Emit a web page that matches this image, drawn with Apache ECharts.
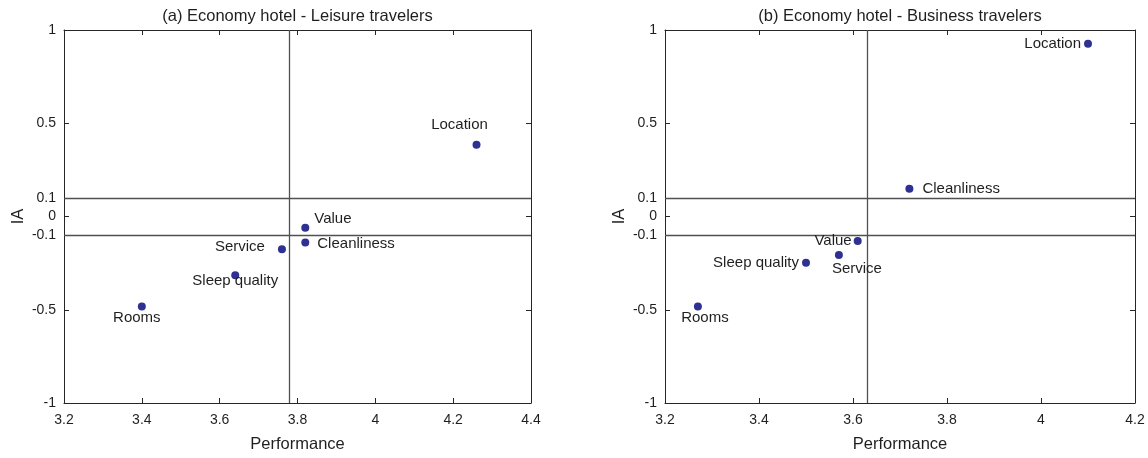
<!DOCTYPE html>
<html>
<head>
<meta charset="utf-8">
<script src="https://cdn.jsdelivr.net/npm/echarts@6/dist/echarts.min.js"></script>
<style>html,body{margin:0;padding:0;background:#fff}#c{width:1148px;height:458px}</style>
</head>
<body>
<div id="c"></div>
<script>
// ---- data ----
const categories = ['Location', 'Value', 'Cleanliness', 'Service', 'Sleep quality', 'Rooms'];
const leisurePerf = [4.26, 3.82, 3.82, 3.76, 3.64, 3.40];
const leisureIA   = [0.385, -0.06, -0.14, -0.175, -0.315, -0.483];
const businessPerf = [4.10, 3.61, 3.72, 3.57, 3.50, 3.27];
const businessIA   = [0.926, -0.131, 0.149, -0.207, -0.248, -0.482];
const leisurePerfThreshold = 3.78;
const businessPerfThreshold = 3.63;
const iaThresholds = [0.1, -0.1];
const yTickValues = [-1, -0.5, -0.1, 0, 0.1, 0.5, 1];
const titles = ['(a) Economy hotel - Leisure travelers', '(b) Economy hotel - Business travelers'];

// ---- styling ----
const FONT = '"Liberation Sans", Arial, Helvetica, sans-serif';
const TXT = '#1f1f1f';
const AX = '#262626';
const DOT = '#2E3192';

const leisureLabelPos = [
  {position: 'top', offset: [-17, -3]},
  {position: 'right', offset: [0, -9]},
  {position: 'right', offset: [3, 1]},
  {position: 'left', offset: [-8, -2]},
  {position: 'inside', offset: [0, 6]},
  {position: 'bottom', offset: [-5, -5]}
];
const businessLabelPos = [
  {position: 'left', offset: [2, 0]},
  {position: 'left', offset: [3, 0]},
  {position: 'right', offset: [4, 0]},
  {position: 'bottom', offset: [18, -3]},
  {position: 'left', offset: [2, 0]},
  {position: 'bottom', offset: [7, -5]}
];

const grids = [
  {left: 64, top: 30, width: 467, height: 381},
  {left: 665, top: 30, width: 470, height: 381}
];
const xRanges = [[3.2, 4.4], [3.2, 4.2]];

const xAxes = [], yAxes = [];
grids.forEach((g, i) => {
  const base = {
    gridIndex: i, type: 'value', min: xRanges[i][0], max: xRanges[i][1], interval: 0.2,
    axisLine: {show: true, onZero: false, lineStyle: {color: AX, width: 1}},
    axisTick: {show: true, inside: true, length: 5, lineStyle: {color: AX}},
    splitLine: {show: false}
  };
  xAxes.push(Object.assign({}, base, {
    position: 'bottom',
    axisLabel: {show: true, color: TXT, fontFamily: FONT, fontSize: 14, margin: 10},
    name: 'Performance', nameLocation: 'middle', nameGap: 33,
    nameTextStyle: {color: TXT, fontFamily: FONT, fontSize: 16.5}
  }));
  xAxes.push(Object.assign({}, base, {
    position: 'top',
    axisLabel: {show: false},
    name: titles[i], nameLocation: 'middle', nameGap: 5,
    nameTextStyle: {color: TXT, fontFamily: FONT, fontSize: 16.5, verticalAlign: 'bottom'}
  }));
  const ybase = {
    gridIndex: i, type: 'value', min: -1, max: 1, interval: 0.1,
    axisLine: {show: true, onZero: false, lineStyle: {color: AX, width: 1}},
    axisTick: {show: true, inside: true, length: 5, customValues: yTickValues, lineStyle: {color: AX}},
    splitLine: {show: false}
  };
  yAxes.push(Object.assign({}, ybase, {
    position: 'left',
    axisLabel: {show: true, customValues: yTickValues, color: TXT, fontFamily: FONT, fontSize: 14, margin: 8},
    name: 'IA', nameLocation: 'middle', nameGap: 37,
    nameTextStyle: {color: TXT, fontFamily: FONT, fontSize: 16.5}
  }));
  yAxes.push(Object.assign({}, ybase, {
    position: 'right',
    axisLabel: {show: false}
  }));
});

function makeSeries(perf, ia, labelPos, gi, thr) {
  return {
    type: 'scatter',
    xAxisIndex: gi * 2, yAxisIndex: gi * 2,
    symbol: 'circle', symbolSize: 8,
    itemStyle: {color: DOT, opacity: 1},
    data: categories.map((c, k) => ({
      name: c, value: [perf[k], ia[k]],
      label: Object.assign({show: true, formatter: c, color: TXT, fontFamily: FONT, fontSize: 15, distance: 5}, labelPos[k])
    })),
    markLine: {
      silent: true, symbol: 'none', animation: false,
      label: {show: false},
      lineStyle: {color: '#505050', width: 1.3, type: 'solid', opacity: 1},
      emphasis: {disabled: true},
      data: [{xAxis: thr}].concat(iaThresholds.map(v => ({yAxis: v})))
    },
    z: 5
  };
}

const chart = echarts.init(document.getElementById('c'), null, {renderer: 'canvas'});
chart.setOption({
  animation: false,
  backgroundColor: '#fff',
  grid: grids,
  xAxis: xAxes,
  yAxis: yAxes,
  series: [
    makeSeries(leisurePerf, leisureIA, leisureLabelPos, 0, leisurePerfThreshold),
    makeSeries(businessPerf, businessIA, businessLabelPos, 1, businessPerfThreshold)
  ]
});
</script>
</body>
</html>
